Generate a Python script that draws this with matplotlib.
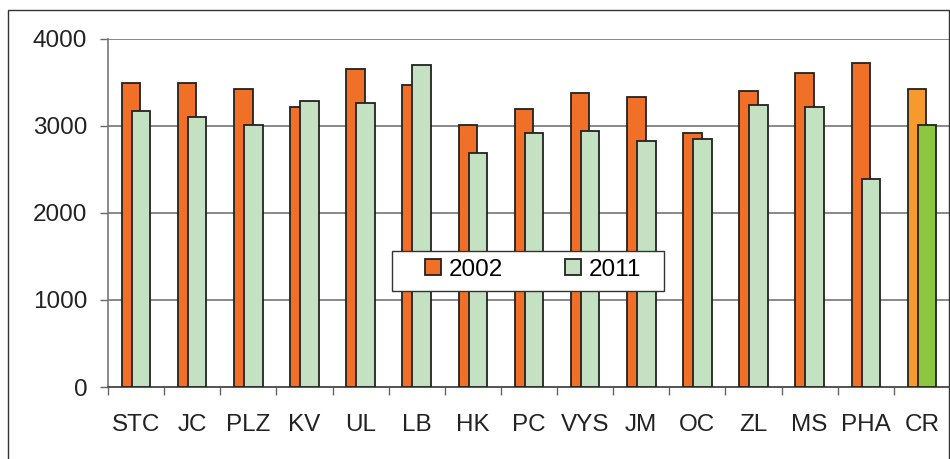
import matplotlib
matplotlib.use("Agg")
import matplotlib.pyplot as plt
from matplotlib.patches import Rectangle, Patch
import numpy as np

categories = ["STC", "JC", "PLZ", "KV", "UL", "LB", "HK", "PC", "VYS", "JM", "OC", "ZL", "MS", "PHA", "CR"]
v2002 = [3495, 3490, 3425, 3218, 3652, 3471, 3008, 3192, 3376, 3333, 2916, 3399, 3609, 3724, 3425]
v2011 = [3176, 3105, 3015, 3284, 3264, 3701, 2690, 2920, 2939, 2828, 2847, 3241, 3215, 2391, 3008]
series_labels = ["2002", "2011"]
yticks = [0, 1000, 2000, 3000, 4000]

plt.rcParams['font.family'] = ['Liberation Sans', 'DejaVu Sans']

c_or = "#F07028"
c_gr = "#C4E2C2"
c_or_cr = "#F79A2E"
c_gr_cr = "#8DC63F"
edge = "#222222"
fs = 17.5

W, H = 950, 459
fig = plt.figure(figsize=(9.5, 4.59), dpi=100)
ax = fig.add_axes([108/W, (H-387)/H, 842/W, 348/H])

# outer frame
fig.patches.append(Rectangle((8/W, -0.1), (949-8)/W, (H-10)/H + 0.1,
                             transform=fig.transFigure, fill=False,
                             edgecolor="#333333", linewidth=1.0, zorder=0))

x = np.arange(len(categories))
w = 0.33
off = 0.089
cols1 = [c_or] * (len(categories) - 1) + [c_or_cr]
cols2 = [c_gr] * (len(categories) - 1) + [c_gr_cr]
ax.bar(x - off, v2002, width=w, color=cols1, edgecolor=edge, linewidth=1.3, zorder=3)
ax.bar(x + off, v2011, width=w, color=cols2, edgecolor=edge, linewidth=1.3, zorder=4)

ax.set_xlim(-0.5, len(categories) - 0.5)
ax.set_ylim(0, 4000)
ax.set_yticks(yticks)
ax.set_yticklabels([str(t) for t in yticks])
ax.yaxis.grid(True, color="#888888", linewidth=1.4, zorder=0)
ax.set_axisbelow(True)

ax.set_xticks(x)
ax.set_xticklabels(categories)
ax.set_xticks(np.arange(len(categories) + 1) - 0.5, minor=True)
ax.tick_params(axis='x', which='major', length=0, pad=19.5, labelsize=fs, colors="#222222")
ax.tick_params(axis='x', which='minor', length=6, width=1, color="#666666")
ax.tick_params(axis='y', length=6, width=1, color="#666666", pad=9, labelsize=fs, labelcolor="#222222")

for s in ["top", "right"]:
    ax.spines[s].set_visible(False)
ax.spines["left"].set_color("#777777")
ax.spines["bottom"].set_color("#555555")
ax.spines["left"].set_linewidth(1.2)
ax.spines["bottom"].set_linewidth(1.4)

# legend box
box = Rectangle((392/W, (H-291)/H), 272/W, 40/H, transform=fig.transFigure,
                facecolor="white", edgecolor="#333333", linewidth=1.0, zorder=9)
ax.add_artist(box)
box.set_clip_on(False)

handles = [Patch(facecolor=c_or, edgecolor=edge, linewidth=1.3),
           Patch(facecolor=c_gr, edgecolor=edge, linewidth=1.3)]
leg = ax.legend(handles, series_labels, loc="center",
                bbox_to_anchor=(533/W, (H-270)/H), bbox_transform=fig.transFigure,
                ncol=2, fontsize=fs, frameon=False,
                handlelength=0.66, handleheight=0.64, handletextpad=0.3,
                columnspacing=2.55, borderpad=0, borderaxespad=0)
leg.set_zorder(10)

fig.savefig("out.png", dpi=100)
